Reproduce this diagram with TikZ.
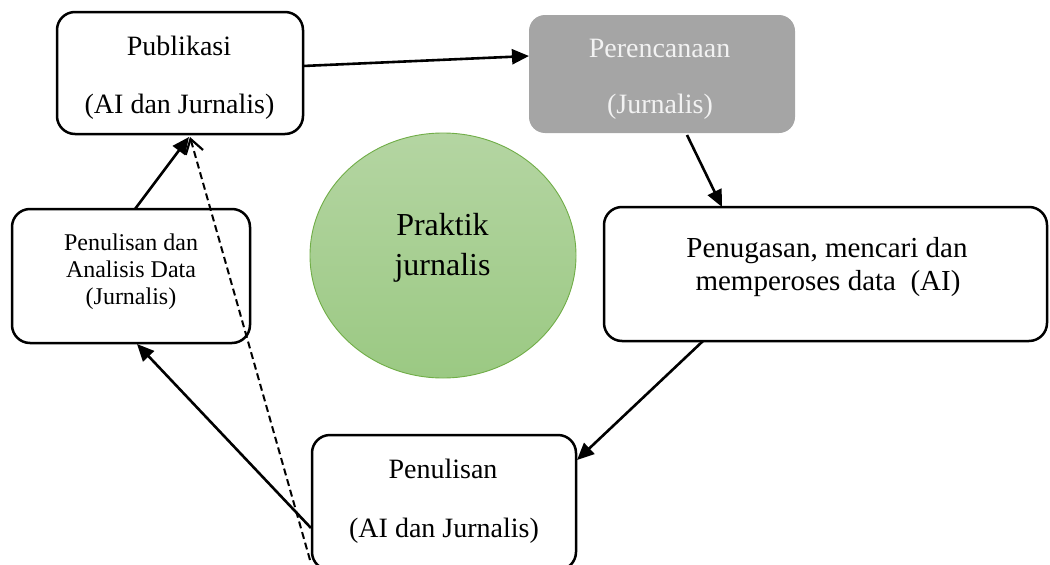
\documentclass[tikz,border=0pt]{standalone}
\usepackage{fontspec}
\setmainfont{Liberation Serif}
\usetikzlibrary{arrows.meta,calc,shapes.geometric}

\definecolor{boxgray}{HTML}{A5A5A5}
\definecolor{circtop}{HTML}{B4D5A2}
\definecolor{circbot}{HTML}{9BC983}
\definecolor{circline}{HTML}{70AD47}
\definecolor{lighttext}{HTML}{F2F2F2}

\begin{document}
\begin{tikzpicture}[x=1pt,y=-1pt,
  stagebox/.style={draw=black,line width=2.5pt,rounded corners=18pt,fill=white,
    inner sep=0pt,outer sep=0pt},
  graybox/.style={fill=boxgray,rounded corners=16pt,inner sep=0pt,outer sep=0pt},
  caption/.style={anchor=base,inner sep=0pt,font=\fontsize{28}{30}\selectfont},
  smallcaption/.style={caption,font=\fontsize{24}{26}\selectfont},
  bigcaption/.style={caption,font=\fontsize{32}{34}\selectfont},
  flow/.style={line width=2.6pt,-{Triangle[length=17pt,width=15pt]}},
  hint/.style={line width=2pt,dash pattern=on 7pt off 4pt,
    -{Straight Barb[length=14pt,width=18pt,line width=2.2pt]}}]

\useasboundingbox (0,0) rectangle (1050,565);

% stage boxes
\node[stagebox,minimum width=246pt,minimum height=122pt] (pub) at (180,73) {};
\node[graybox,minimum width=266pt,minimum height=118pt] (per) at (662,74) {};
\node[stagebox,minimum width=443pt,minimum height=134pt] (tug) at (825.5,274) {};
\node[stagebox,minimum width=238pt,minimum height=134pt] (ana) at (131,276) {};
\node[stagebox,minimum width=264pt,minimum height=135pt] (tul) at (444,502.5) {};

% central circle
\node[ellipse,minimum width=266pt,minimum height=245pt,inner sep=0pt,
  draw=circline,line width=0.9pt,top color=circtop,bottom color=circbot]
  (core) at (443,255.5) {};

% texts
\node[caption] (pubA) at (179,55) {Publikasi};
\node[caption] (pubB) at (179.5,113) {(AI dan Jurnalis)};
\node[caption,text=lighttext] (perA) at (659.5,57) {Perencanaan};
\node[caption,text=lighttext] (perB) at (660,113) {(Jurnalis)};
\node[caption,font=\fontsize{29}{30}\selectfont] (tugA) at (827,257) {Penugasan, mencari dan};
\node[caption,font=\fontsize{29}{30}\selectfont] (tugB) at (828,290) {memperoses data\ \ (AI)};
\node[smallcaption] (anaA) at (131,250) {Penulisan dan};
\node[smallcaption] (anaB) at (131,277) {Analisis Data};
\node[smallcaption] (anaC) at (131,304) {(Jurnalis)};
\node[bigcaption] (coreA) at (442.5,235) {Praktik};
\node[bigcaption] (coreB) at (442.5,275) {jurnalis};
\node[caption] (tulA) at (443,478) {Penulisan};
\node[caption] (tulB) at (444,537) {(AI dan Jurnalis)};

% connectors
\draw[flow] ($(pub.east)+(0,-7)$) -- ($(per.west)+(0,-18)$);
\draw[flow] ($(per.south)+(25,2)$) -- ($(tug.north)+(-103.5,0)$);
\draw[flow] ($(tug.south)+(-122.5,0)$) -- ($(tul.east)+(1,-42.5)$);
\draw[flow] ($(tul.west)+(-1,25.5)$) -- ($(ana.south)+(6,1)$);
\draw[flow] ($(ana.north)+(4,0)$) -- ($(pub.south)+(9,3)$);
\draw[hint] ($(tul.west)+(-2,57.5)$) -- ($(pub.south)+(10,3)$);

\end{tikzpicture}
\end{document}
